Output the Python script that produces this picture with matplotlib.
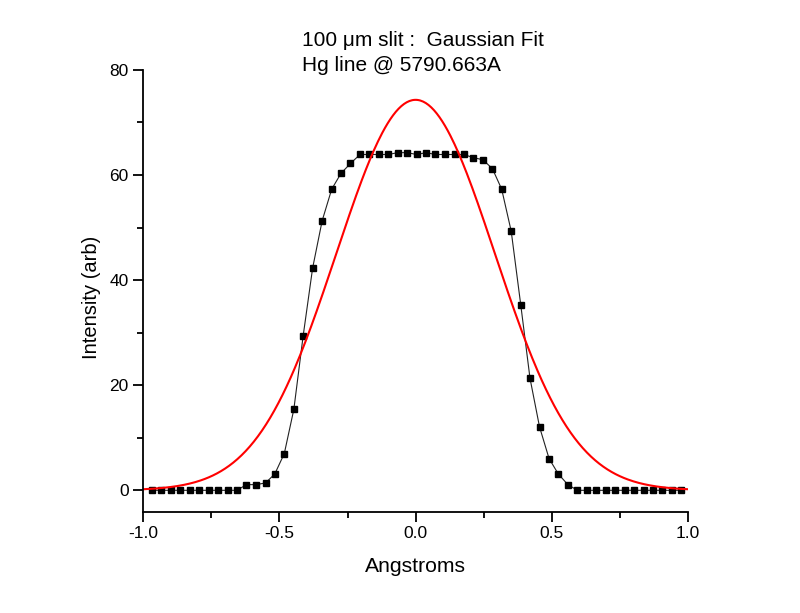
import matplotlib
matplotlib.use("Agg")
import matplotlib.pyplot as plt
import numpy as np
from matplotlib.ticker import MultipleLocator

plt.rcParams['font.family'] = ['Liberation Sans', 'DejaVu Sans']

# measured points (Angstroms offset, intensity)
x_data = [-0.968, -0.933, -0.898, -0.864, -0.829, -0.794, -0.760, -0.725, -0.690, -0.656,
          -0.621, -0.586, -0.551, -0.517, -0.482, -0.447, -0.413, -0.378, -0.343, -0.308,
          -0.274, -0.239, -0.204, -0.170, -0.135, -0.100, -0.066, -0.031, 0.004, 0.039,
          0.073, 0.108, 0.143, 0.177, 0.212, 0.247, 0.282, 0.316, 0.351, 0.386,
          0.420, 0.455, 0.490, 0.524, 0.559, 0.594, 0.628, 0.663, 0.698, 0.733,
          0.767, 0.802, 0.837, 0.871, 0.906, 0.941, 0.975]
y_data = [0, 0, 0, 0, 0, 0, 0, 0, 0, 0,
          1.08, 1.08, 1.4, 3.1, 7.0, 15.4, 29.3, 42.3, 51.3, 57.3,
          60.3, 62.2, 63.9, 63.9, 63.9, 63.9, 64.25, 64.25, 63.9, 64.25,
          63.9, 63.9, 63.9, 63.9, 63.3, 62.9, 61.2, 57.3, 49.3, 35.3,
          21.3, 12.06, 6.03, 3.1, 1.08, 0, 0, 0, 0, 0,
          0, 0, 0, 0, 0, 0, 0]

# gaussian fit parameters
amp = 74.3
xc = 0.0
sigma = 0.291

xf = np.linspace(-1.0, 1.0, 400)
yf = amp*np.exp(-(xf-xc)**2/(2*sigma**2))

fig = plt.figure(figsize=(8, 6.13), dpi=100)
ax = fig.add_axes([0.179, 0.165, 0.681, 0.721])

ax.plot(x_data, y_data, color='#222222', lw=0.8, marker='s', ms=4.5,
        mfc='black', mec='black')
ax.plot(xf, yf, color='red', lw=1.5)

ax.set_xlim(-1.0, 1.0)
ax.set_ylim(-4.1, 80)
ax.xaxis.set_minor_locator(MultipleLocator(0.25))
ax.yaxis.set_minor_locator(MultipleLocator(10))
ax.set_xticks([-1.0, -0.5, 0.0, 0.5, 1.0])
ax.set_xticklabels(['-1.0', '-0.5', '0.0', '0.5', '1.0'])
ax.set_yticks([0, 20, 40, 60, 80])

ax.spines['top'].set_visible(False)
ax.spines['right'].set_visible(False)
for s in ['left', 'bottom']:
    ax.spines[s].set_linewidth(1.3)
ax.tick_params(which='major', direction='out', length=7, width=1.3, labelsize=12.5)
ax.tick_params(which='minor', direction='out', length=4, width=1.3)

ax.set_xlabel('Angstroms', fontsize=15.2, labelpad=11)
ax.set_ylabel('Intensity (arb)', fontsize=14.5)
ax.yaxis.set_label_coords(-0.077, 0.485)

fig.text(0.377, 0.925, '100 \u03bcm slit :  Gaussian Fit', fontsize=15, ha='left')
fig.text(0.377, 0.884, 'Hg line @ 5790.663A', fontsize=15, ha='left')

plt.savefig('out.png', dpi=100)
